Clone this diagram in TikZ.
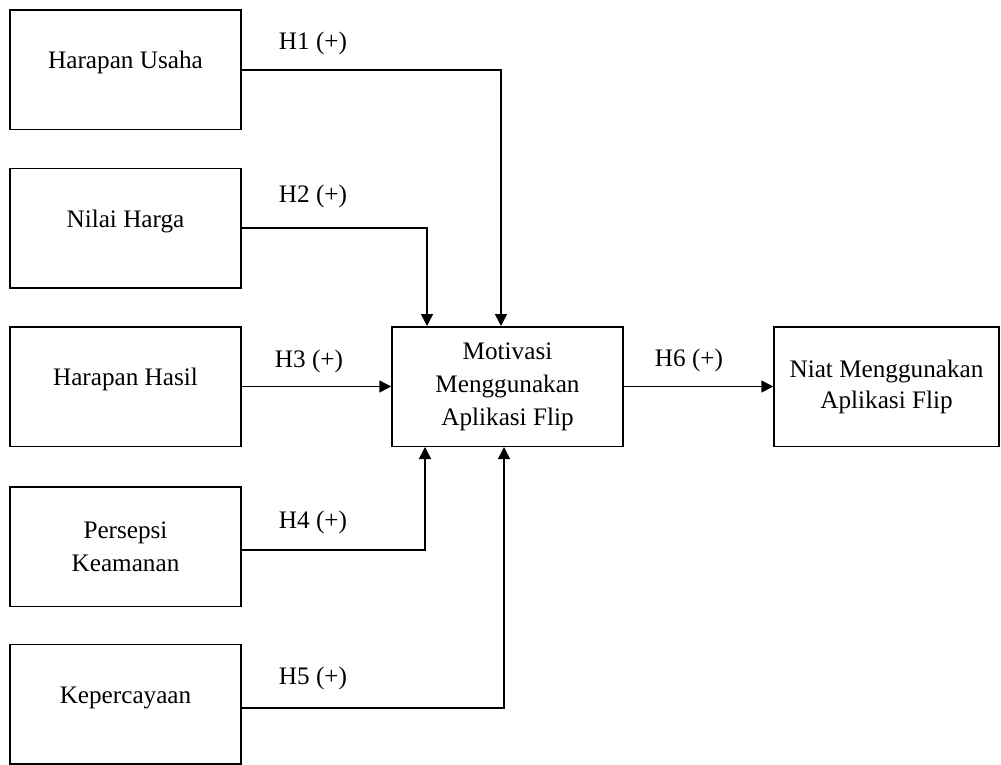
\documentclass[tikz,border=0pt]{standalone}
\usepackage{fontspec}
\setmainfont{Liberation Serif}
\usetikzlibrary{arrows.meta}

\begin{document}
\begin{tikzpicture}[x=0.5pt,y=-0.5pt]
    \tikzstyle{every node}+=[inner sep=0pt, font=\fontsize{12.6}{16.5}\selectfont]
    \tikzstyle{box}=[draw=black, line width=0.75pt, align=center, minimum width=115.5pt, minimum height=59.75pt]
    \tikzstyle{upper}=[text height=8.6pt, text depth=9.6pt]
    \tikzstyle{link}=[black, line width=0.75pt, -{Triangle[length=6pt,width=6pt]}]
    \useasboundingbox (0,0) rectangle (1001,765);
    \node [box, upper] (hu) at (125.5,70) {Harapan Usaha};
    \node [box, upper] (nh) at (125.5,228) {Nilai Harga};
    \node [box, upper] (hh) at (125.5,386.5) {Harapan Hasil};
    \node [box] (pk) at (125.5,546.5) {Persepsi\\Keamanan};
    \node [box, upper] (kp) at (125.5,704) {Kepercayaan};
    \node [box] (mot) at (507.5,386.5) {Motivasi\\Menggunakan\\Aplikasi Flip};
    \node [box, minimum width=112.5pt, font=\fontsize{12.6}{15.5}\selectfont] (niat) at (886.5,386.5) {Niat Menggunakan\\Aplikasi Flip};
    \draw [link] (hu.east) -| ([xshift=-3.25pt]mot.north);
    \draw [link] (nh.east) -| ([xshift=-40.25pt]mot.north);
    \draw [link] (hh.east) -- (mot.west);
    \draw [link] ([yshift=-1.75pt]pk.east) -| ([xshift=-41.25pt]mot.south);
    \draw [link] ([yshift=-2pt]kp.east) -| ([xshift=-1.75pt]mot.south);
    \draw [link] (mot.east) -- (niat.west);
    \node (h1) at (313,43) {H1 (+)};
    \node (h2) at (313,196) {H2 (+)};
    \node (h3) at (309,361) {H3 (+)};
    \node (h4) at (313,522) {H4 (+)};
    \node (h5) at (313,678) {H5 (+)};
    \node (h6) at (689,360) {H6 (+)};
\end{tikzpicture}
\end{document}
